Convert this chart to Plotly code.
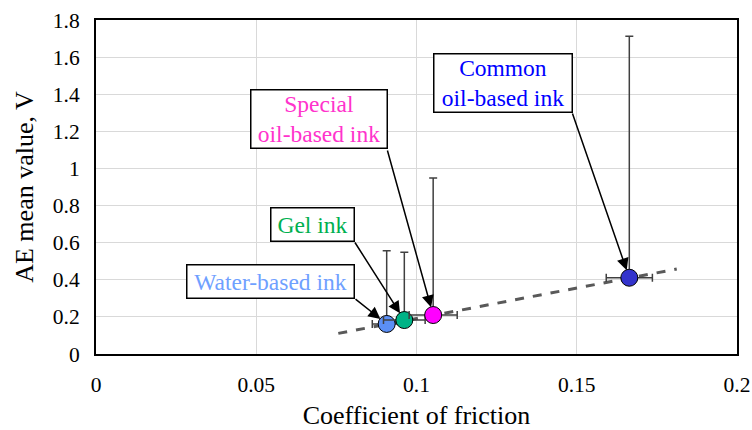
import plotly.graph_objects as go

# ---- data ----
inks = ["Water-based ink", "Gel ink", "Special<br>oil-based ink", "Common<br>oil-based ink"]
cof = [0.0907, 0.0962, 0.1052, 0.1664]
ae_mean = [0.162, 0.183, 0.210, 0.411]
cof_err = [0.0045, 0.0065, 0.0075, 0.0072]
ae_err_plus = [0.395, 0.365, 0.738, 1.302]
trend_x = [0.0756, 0.1812]
trend_y = [0.111, 0.458]

marker_colors = ["#5B8FF5", "#00B386", "#FF00FF", "#3333CC"]
text_colors = ["#6FA0FF", "#00B050", "#FF33CC", "#0000FF"]

# label box centers and arrow start points (data coords)
label_x = [0.0543, 0.0674, 0.0696, 0.1270]
label_y = [0.393, 0.7006, 1.264, 1.460]
arrow_x0 = [0.0805, 0.0805, 0.0908, 0.1485]
arrow_y0 = [0.302, 0.609, 1.105, 1.304]
box_w = [162, 78, 131, 133]
box_h = [28, 28, 53, 53]

FONT = "Liberation Serif, Times New Roman, serif"

fig = go.Figure()

fig.add_trace(go.Scatter(
    x=trend_x, y=trend_y, mode="lines",
    line=dict(color="#595959", width=3, dash="dash"),
    showlegend=False, hoverinfo="skip"))

for i in range(len(inks)):
    fig.add_trace(go.Scatter(
        x=[cof[i]], y=[ae_mean[i]], mode="markers",
        marker=dict(size=17, color=marker_colors[i], line=dict(color="black", width=1)),
        error_x=dict(type="data", array=[cof_err[i]], color="#404040", thickness=1.5, width=4),
        error_y=dict(type="data", symmetric=False, array=[ae_err_plus[i]], arrayminus=[0],
                     color="#404040", thickness=1.5, width=4),
        showlegend=False, name=inks[i]))

for i in range(len(inks)):
    # arrow from box corner to point
    fig.add_annotation(
        x=cof[i], y=ae_mean[i], ax=arrow_x0[i], ay=arrow_y0[i],
        xref="x", yref="y", axref="x", ayref="y",
        text="", showarrow=True, arrowhead=2, arrowsize=1.6, arrowwidth=1.5,
        arrowcolor="black", standoff=8)
    fig.add_annotation(
        x=label_x[i], y=label_y[i], xref="x", yref="y",
        text=inks[i], showarrow=False,
        font=dict(family=FONT, size=23.5, color=text_colors[i]),
        bgcolor="white", bordercolor="black", borderwidth=1.5, borderpad=2,
        width=box_w[i], height=box_h[i], align="center")

fig.update_layout(
    width=752, height=430,
    margin=dict(l=96, r=15, t=20, b=76),
    paper_bgcolor="white", plot_bgcolor="white",
    font=dict(family=FONT, size=21, color="black"),
)
fig.update_xaxes(
    range=[0, 0.2], dtick=0.05, tick0=0, automargin=False,
    showgrid=True, gridcolor="#D9D9D9", gridwidth=1,
    showline=True, linecolor="black", linewidth=2, mirror=True,
    zeroline=False, ticks="", ticklabelstandoff=10,
    tickfont=dict(family=FONT, size=21.5),
    title=dict(text="Coefficient of friction", font=dict(family=FONT, size=26), standoff=10))
fig.update_yaxes(
    range=[0, 1.8], dtick=0.2, tick0=0, automargin=False,
    showgrid=True, gridcolor="#D9D9D9", gridwidth=1,
    showline=True, linecolor="black", linewidth=2, mirror=True,
    zeroline=False, ticks="", ticklabelstandoff=10,
    tickfont=dict(family=FONT, size=21.5),
    title=dict(text="AE mean value, V", font=dict(family=FONT, size=26), standoff=12))

fig.write_html(
    "out.html",
    config={"displayModeBar": False},
    post_script="document.body.style.margin='0';document.body.style.overflow='hidden';")
